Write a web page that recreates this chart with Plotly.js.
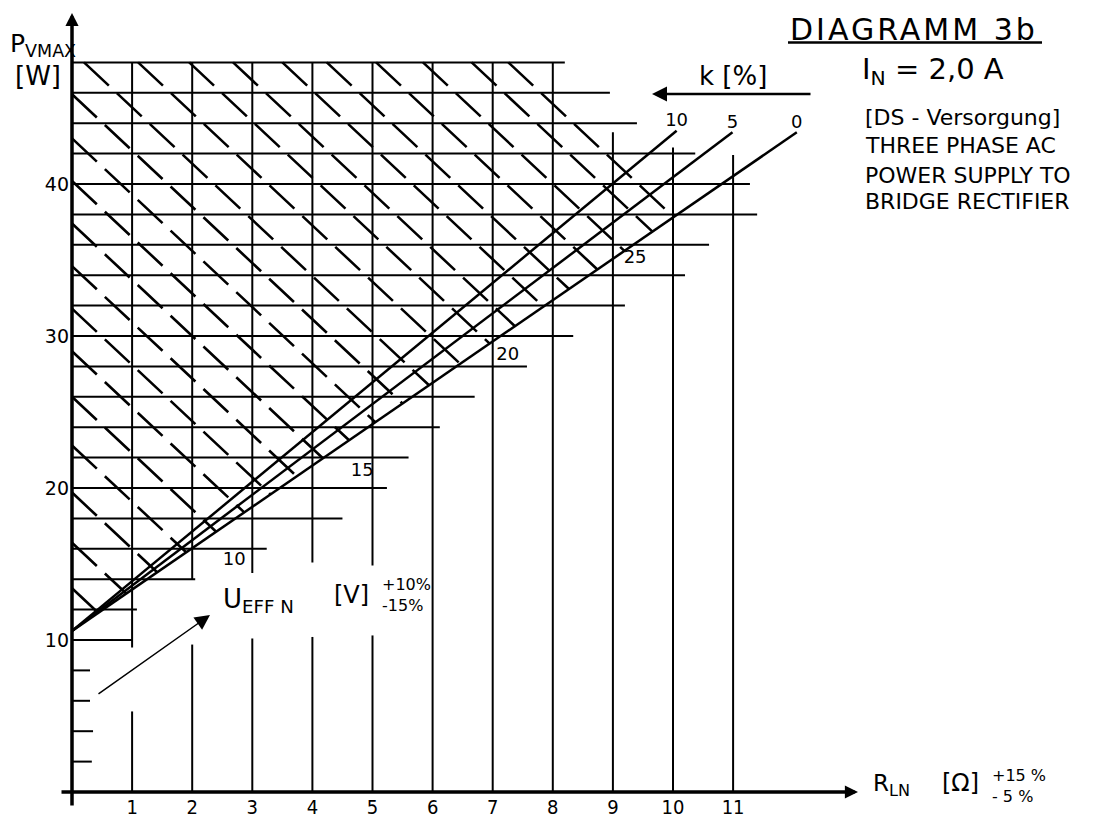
<!DOCTYPE html>
<html><head><meta charset="utf-8">
<script src="https://cdn.plot.ly/plotly-3.0.1.min.js"></script>
<style>html,body{margin:0;padding:0;background:#fff}#chart{width:1098px;height:821px}</style>
</head><body><div id="chart"></div>
<script>
// ---------------- values ----------------
const xTickVals = [1, 2, 3, 4, 5, 6, 7, 8, 9, 10, 11];          // R_LN [Ω]
const yTickVals = [10, 20, 30, 40];                              // P_VMAX [W]

// horizontal grid lines: level P [W] and the R [Ω] where each one ends
const gridP    = [2, 4, 6, 8, 10, 12, 14, 16, 18, 20, 22, 24, 26, 28, 30, 32, 34, 36, 38, 40, 42, 44, 46, 48];
const gridPEnd = [0.33, 0.35, 0.3, 0.3, 1.0, 1.08, 2.05, 3.24, 4.5, 5.24, 5.6, 6.12, 6.7, 7.57, 8.34, 9.2, 10.2, 10.6, 11.4, 11.28, 10.37, 9.4, 8.95, 8.2];

// vertical grid lines: R value, top of the lower piece, bottom of the upper piece (upper piece runs to gridTop)
const gridR       = [1, 2, 3, 4, 5, 6, 7, 8, 9, 10, 11];
const gridRLowTo  = [5.3, 9.7, 10.1, 10.2, 10.3, 48, 48, 48, 43.4, 42.4, 41.9];
const gridRUpFrom = [9.5, 14, 14.4, 15.1, 14.9, null, null, null, null, null, null];
const gridTop = 48;

// k [%] lines
const kVals   = [10, 5, 0];
const kStartR = [0, 0, 0];
const kStartP = [10.6, 10.6, 10.6];
const kEndR   = [10.06, 10.99, 12.06];
const kEndP   = [43.5, 43.4, 43.4];

// U_EFF N [V] scale marks along the line band
const uVals = [10, 15, 20, 25];
const uR    = [2.70, 4.83, 7.25, 9.37];
const uP    = [15.2, 21.1, 28.75, 35.07];

// hatching of the region above the k = 0 line
const hatchTopR  = [0.2, 1.1, 1.95, 2.68, 3.5, 4.24, 5.06, 5.84, 6.65, 7.26];   // where lines leave the top edge
const hatchLeftP = [45.9, 43.0, 40.2, 37.4, 34.6, 31.8, 29.0, 26.0, 22.8, 19.7, 16.4, 13.4]; // where lines leave the P axis
const hatchSlope = -3.7;   // W per Ω

// ---------------- build traces ----------------
const INK = '#000';
function segs(list) {
  const x = [], y = [];
  list.forEach(s => { x.push(s[0], s[2], null); y.push(s[1], s[3], null); });
  return {x, y};
}

const hSegs = gridP.map((p, i) => [0, p, gridPEnd[i], p]);
const vSegs = [];
gridR.forEach((r, i) => {
  vSegs.push([r, 0, r, gridRLowTo[i]]);
  if (gridRUpFrom[i] !== null) vSegs.push([r, gridRUpFrom[i], r, gridTop]);
});

// hatch lines end on the k = 0 line
const k0 = kVals.indexOf(0);
const k0m = (kEndP[k0] - kStartP[k0]) / (kEndR[k0] - kStartR[k0]);
function hatchSeg(r0, p0) {
  const r1 = (p0 - hatchSlope * r0 - kStartP[k0]) / (k0m - hatchSlope);
  const p1 = kStartP[k0] + k0m * r1;
  return [r0, p0, r1, p1];
}
const hatchSegs = hatchTopR.map(r => hatchSeg(r, gridTop)).concat(hatchLeftP.map(p => hatchSeg(0, p)));

const hs = segs(hSegs), vs = segs(vSegs), ht = segs(hatchSegs);
const kSegs = kVals.map((k, i) => [kStartR[i], kStartP[i], kEndR[i], kEndP[i]]);
const ks = segs(kSegs);

const traces = [
  {type: 'scatter', mode: 'lines', x: hs.x, y: hs.y, line: {color: INK, width: 2}, hoverinfo: 'skip'},
  {type: 'scatter', mode: 'lines', x: vs.x, y: vs.y, line: {color: INK, width: 2}, hoverinfo: 'skip'},
  {type: 'scatter', mode: 'lines', x: ht.x, y: ht.y, line: {color: INK, width: 2.6, dash: '34px,11px'}, hoverinfo: 'skip'},
  {type: 'scatter', mode: 'lines', x: ks.x, y: ks.y, line: {color: INK, width: 2.5}, hoverinfo: 'skip'},
  {type: 'scatter', mode: 'text', x: kEndR, y: kEndP, text: kVals.map(String), textposition: 'top center',
   textfont: {family: 'DejaVu Sans', size: 18, color: INK}, cliponaxis: false, hoverinfo: 'skip'},
  {type: 'scatter', mode: 'text', x: uR, y: uP, text: uVals.map(String), textposition: 'middle center',
   textfont: {family: 'DejaVu Sans', size: 18, color: INK}, cliponaxis: false, hoverinfo: 'skip'}
];

// ---------------- layout ----------------
const ML = 70, MB = 28, FW = 1098, FH = 821;
const PW = FW - ML, PH = FH - MB;
const X0 = 72, XS = 60.1, Y0 = 792, YS = 15.2;     // pixel position of the origin, pixels per unit
const px = x => (x - ML) / PW;
const py = y => (PH - y) / PH;
const F = 'DejaVu Sans, Liberation Sans, sans-serif';
const FN = 'Liberation Sans Narrow, DejaVu Sans Condensed, DejaVu Sans, sans-serif';

function txt(text, x, y, size, extra) {
  return Object.assign({xref: 'paper', yref: 'paper', x: px(x), y: py(y), text: text, showarrow: false,
    xanchor: 'left', yanchor: 'middle', font: {family: F, size: size, color: INK}}, extra || {});
}
function arrow(hx, hy, tx, ty, w, size) {
  return {xref: 'paper', yref: 'paper', x: px(hx), y: py(hy), ax: tx - hx, ay: ty - hy, text: '',
    showarrow: true, arrowhead: 2, arrowsize: size, arrowwidth: w, arrowcolor: INK};
}

const annotations = [
  arrow(72, 13, 72, 807, 3.5, 0.75),
  arrow(858, 792, 60, 792, 3.5, 0.75),
  arrow(652, 94, 812, 94, 2.5, 1.2),
  arrow(210, 615, 97, 695, 1.5, 2),
  txt('<span style="letter-spacing:3px">DIAGRAMM 3b</span>', 788, 30, 30),
  txt('I<sub>N</sub> = 2,0 A', 860, 71, 29),
  txt('[DS - Versorgung]', 863, 118, 22),
  txt('THREE PHASE AC', 863, 146, 22),
  txt('POWER SUPPLY TO', 863, 175, 22),
  txt('BRIDGE RECTIFIER', 863, 202, 22),
  txt('k [%]', 697, 76, 26),
  txt('P<sub>VMAX</sub>', 8, 45, 25),
  txt('[W]', 13, 76, 26),
  txt('U<sub>EFF N</sub>', 221, 600, 26),
  txt('[V]', 332, 595, 24),
  txt('+10%', 380, 584, 16),
  txt('-15%', 380, 605, 16),
  txt('R<sub>LN</sub>', 871, 785, 23),
  txt('[Ω]', 940, 783, 24),
  txt('+15 %', 990, 775, 16),
  txt('- 5 %', 990, 797, 16)
];

const shapes = [
  {type: 'line', xref: 'paper', yref: 'paper', x0: px(788), x1: px(1042), y0: py(42.5), y1: py(42.5),
   line: {color: INK, width: 2.5}}
];

const layout = {
  width: FW, height: FH,
  margin: {l: ML, r: 0, t: 0, b: MB, pad: 0},
  paper_bgcolor: '#fff', plot_bgcolor: '#fff',
  showlegend: false,
  xaxis: {range: [(ML - X0) / XS, (FW - X0) / XS], tickmode: 'array', tickvals: xTickVals,
    ticks: '', showgrid: false, zeroline: false, showline: false, fixedrange: true,
    tickfont: {family: FN, size: 20, color: INK}},
  yaxis: {range: [(Y0 - PH) / YS, Y0 / YS], tickmode: 'array', tickvals: yTickVals,
    ticks: '', showgrid: false, zeroline: false, showline: false, fixedrange: true,
    tickfont: {family: F, size: 19, color: INK}},
  annotations: annotations,
  shapes: shapes
};

Plotly.newPlot('chart', traces, layout, {staticPlot: true, displayModeBar: false});
</script></body></html>
